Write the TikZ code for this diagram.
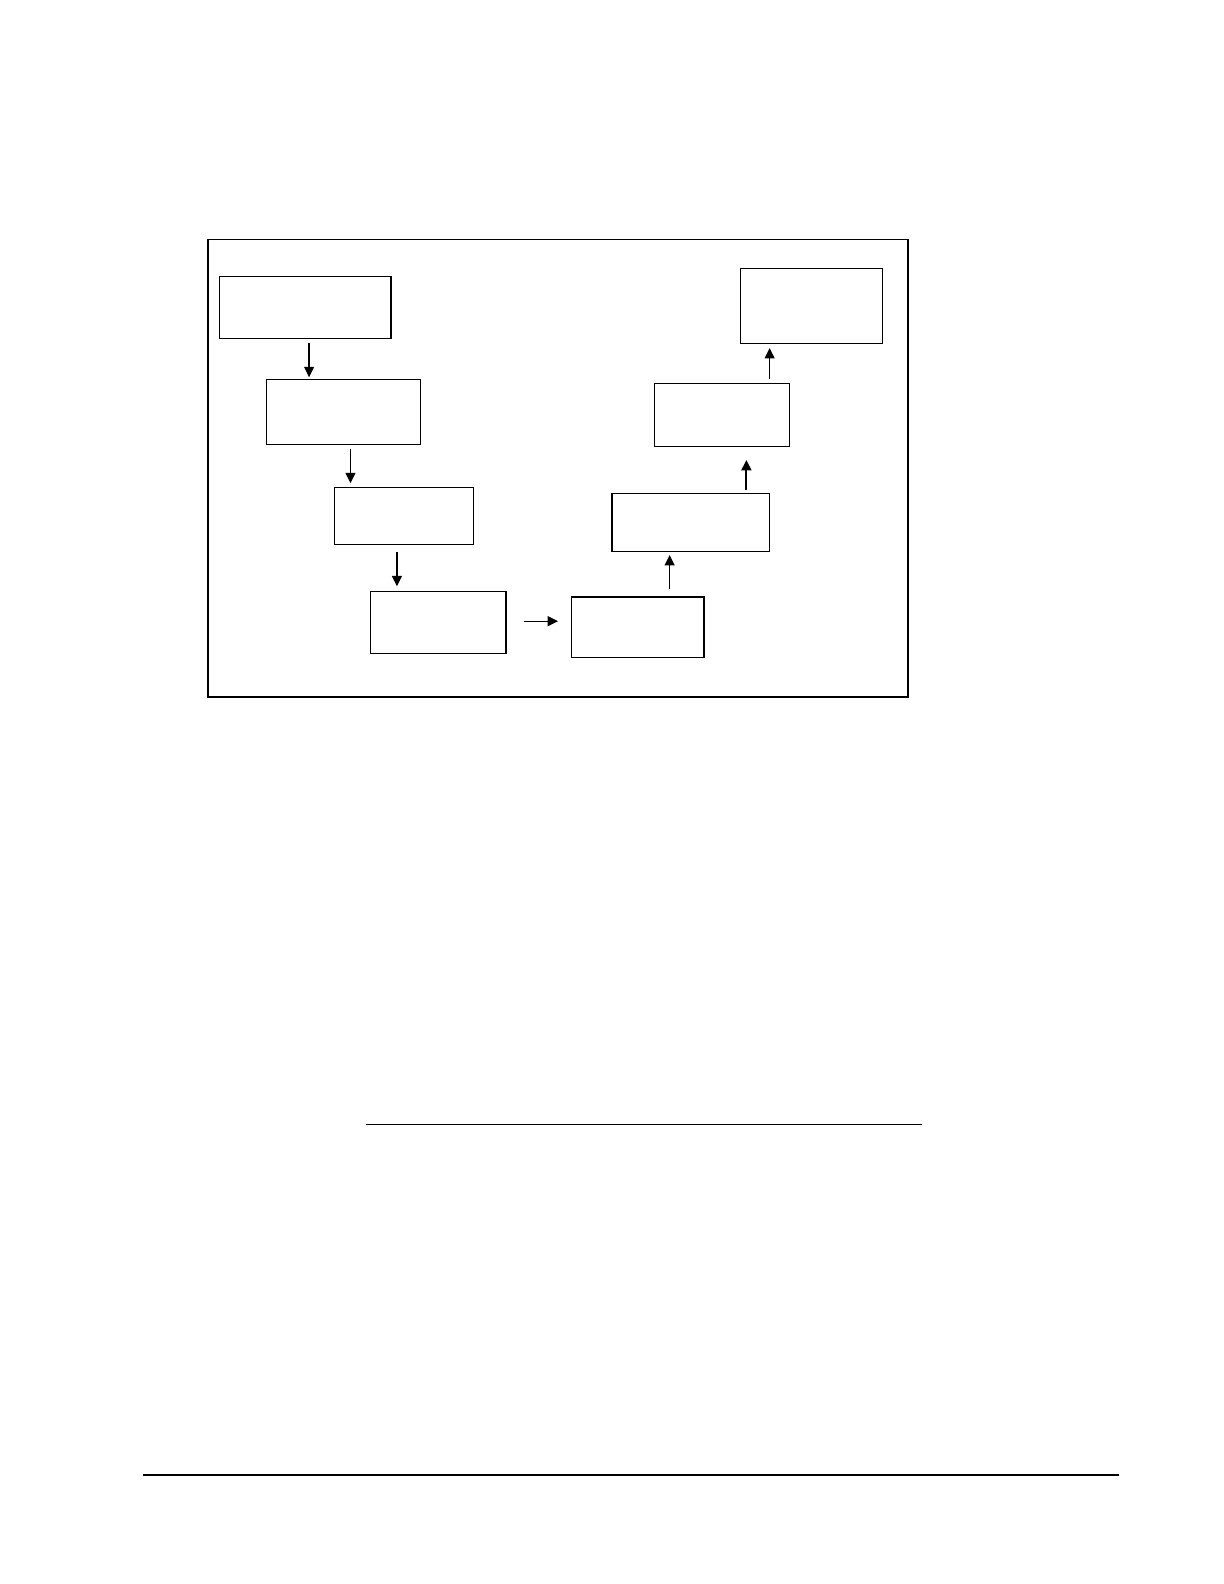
\documentclass[tikz,border=0pt]{standalone}
\usetikzlibrary{arrows.meta}
\begin{document}
\begin{tikzpicture}[x=0.505pt,y=-0.505pt,
  box/.style={draw, line width=0.6pt, inner sep=0pt},
  arr/.style={line width=0.6pt, -{Triangle[length=5.2pt,width=5pt]}},
  thickarr/.style={line width=1pt, -{Triangle[length=5.2pt,width=5pt]}}]
\useasboundingbox (0pt,0pt) rectangle (612pt,-792pt);
% frame
\node[draw, line width=0.6pt, minimum width=350pt, minimum height=228.8pt, inner sep=0pt] (frame) at (552.5,463.5) {};
% boxes
\node[box, minimum width=85.9pt, minimum height=30.8pt] (b1) at (302,304.5) {};
\node[box, minimum width=76.8pt, minimum height=32.3pt] (b2) at (340,408) {};
\node[box, minimum width=69.7pt, minimum height=28.3pt] (b3) at (400,511) {};
\node[box, minimum width=67.7pt, minimum height=30.8pt] (b4) at (434,616.5) {};
\node[box, minimum width=66.2pt, minimum height=30.3pt] (b5) at (631.5,621) {};
\node[box, minimum width=78.8pt, minimum height=28.8pt] (b6) at (684,517.5) {};
\node[box, minimum width=67.7pt, minimum height=31.3pt] (b7) at (715,411) {};
\node[box, minimum width=71.2pt, minimum height=37.4pt] (b8) at (803.5,303) {};
% arrow x positions
\coordinate (x1) at (306,0);
\coordinate (x2) at (347,0);
\coordinate (x3) at (393,0);
\coordinate (y4) at (0,615);
\coordinate (x5) at (663,0);
\coordinate (x6) at (739,0);
\coordinate (x7) at (762,0);
\draw[arr, shorten <=2pt, shorten >=1pt] (b1.south -| x1) -- (b2.north -| x1);
\draw[arr, shorten <=2pt, shorten >=2pt] (b2.south -| x2) -- (b3.north -| x2);
\draw[arr, shorten <=3.5pt, shorten >=2.5pt] (b3.south -| x3) -- (b4.north -| x3);
\draw[arr, shorten <=8.5pt, shorten >=6.5pt] (b4.east |- y4) -- (b5.west |- y4);
\draw[arr, shorten <=3.5pt, shorten >=1.5pt] (b5.north -| x5) -- (b6.south -| x5);
\draw[thickarr, shorten <=1.5pt, shorten >=6.5pt] (b6.north -| x6) -- (b7.south -| x6);
\draw[arr, shorten <=2pt, shorten >=2pt] (b7.north -| x7) -- (b8.south -| x7);
% rules
\coordinate (r1a) at (362,1113);
\coordinate (r1b) at (913,1113);
\draw[line width=0.6pt] (r1a) -- (r1b);
\coordinate (r2a) at (142,1460);
\coordinate (r2b) at (1108,1460);
\draw[line width=1pt] (r2a) -- (r2b);
\end{tikzpicture}
\end{document}
